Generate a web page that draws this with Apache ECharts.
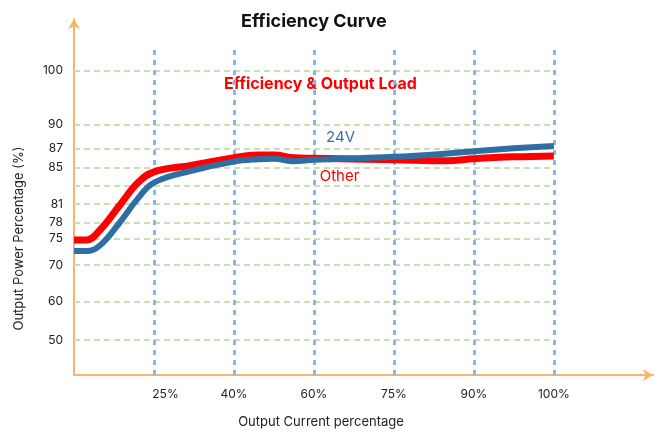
<!DOCTYPE html>
<html>
<head>
<meta charset="utf-8">
<title>Efficiency Curve</title>
<script src="https://cdn.jsdelivr.net/npm/echarts@6/dist/echarts.min.js"></script>
<style>
  html, body { margin: 0; padding: 0; background: #fff; }
  #main { width: 663px; height: 434px; }
</style>
</head>
<body>
<div id="main"></div>
<script>
// data
const loadPct  = [0, 4, 8, 14, 20, 25, 32, 40, 46, 50, 55, 60, 75, 85, 90, 95, 100];
const eff24V   = [72.6, 72.6, 73.6, 77.8, 81.6, 83.3, 84.6, 85.6, 85.85, 85.9, 85.65, 85.8, 86.1, 86.45, 86.7, 87.0, 87.3];
const effOther = [74.7, 74.7, 76.5, 80.6, 83.3, 84.5, 85.2, 86.0, 86.3, 86.3, 86.0, 85.95, 85.8, 85.7, 85.9, 86.1, 86.2];

const xTicks = [0, 25, 40, 60, 75, 90, 100];
const xTickLabels = ['', '25%', '40%', '60%', '75%', '90%', '100%'];
const yTicks = [50, 60, 70, 75, 78, 81, 83, 85, 87, 90, 100];
const yTickLabels = ['50', '60', '70', '75', '78', '81', '', '85', '87', '90', '100'];

// the original axes are not linear: each tick sits at its own place,
// values in between are interpolated between neighbouring ticks
const xTickPos = [0, 1, 2, 3, 4, 5, 6];
const yTickPos = [35, 73.3, 110, 136.7, 152.3, 171, 189.7, 207.7, 226.7, 250.3, 304.3];

function warp(v, ticks, pos) {
  for (let i = 0; i < ticks.length - 1; i++) {
    if (v <= ticks[i + 1] || i === ticks.length - 2) {
      const t = (v - ticks[i]) / (ticks[i + 1] - ticks[i]);
      return pos[i] + t * (pos[i + 1] - pos[i]);
    }
  }
}
const wx = v => warp(v, xTicks, xTickPos);
const wy = v => warp(v, yTicks, yTickPos);

function labelAt(v, pos, labels) {
  for (let i = 0; i < pos.length; i++) {
    if (Math.abs(pos[i] - v) < 1e-6) return labels[i];
  }
  return '';
}

const FONT = 'Inter';
const AXIS_COLOR = '#f8b46e';

var myChart = echarts.init(document.getElementById('main'), null, { renderer: 'canvas' });

let hLines = yTicks.map((v) => [{ coord: [0, wy(v)] }, { coord: [6, wy(v)] }]);
let vLines = xTickPos.slice(1).map((p) => [{ coord: [p, 0] }, { coord: [p, 328] }]);

let option = {
  animation: false,
  textStyle: { fontFamily: FONT },
  title: {
    text: 'Efficiency Curve',
    left: 236,
    top: 8,
    textStyle: { fontFamily: FONT, fontSize: 18, fontWeight: 'bold', color: '#111' }
  },
  grid: { left: 74, right: 10, top: 19, bottom: 59 },
  xAxis: {
    type: 'value',
    min: 0,
    max: 7.24,
    axisLine: {
      lineStyle: { color: AXIS_COLOR, width: 2 },
      symbol: ['none', 'arrow'],
      symbolSize: [9, 10]
    },
    axisTick: { show: false },
    splitLine: { show: false },
    axisLabel: {
      customValues: xTickPos.slice(1),
      margin: 13,
      fontFamily: FONT,
      fontSize: 12,
      color: '#222',
      formatter: function (v) {
        let s = labelAt(v, xTickPos, xTickLabels);
        return v === 1 ? '{a|' + s + '}' : s;
      },
      rich: { a: { fontFamily: FONT, fontSize: 12, color: '#222', padding: [0, 0, 0, 23] } }
    }
  },
  yAxis: {
    type: 'value',
    min: 0,
    max: 356,
    axisLine: {
      show: true,
      lineStyle: { color: AXIS_COLOR, width: 2 },
      symbol: ['none', 'arrow'],
      symbolSize: [9, 10]
    },
    axisTick: { show: false },
    splitLine: { show: false },
    axisLabel: {
      customValues: yTickPos.filter((p, i) => yTickLabels[i] !== ''),
      margin: 11,
      fontFamily: FONT,
      fontSize: 12,
      color: '#222',
      formatter: function (v) { return labelAt(v, yTickPos, yTickLabels); }
    }
  },
  graphic: [
    {
      type: 'text', x: 19.5, y: 238.5, rotation: Math.PI / 2,
      style: { text: 'Output Power Percentage (%)', font: '13px Inter', fill: '#222', align: 'center', verticalAlign: 'middle' }
    },
    {
      type: 'text', x: 321, y: 422,
      style: { text: 'Output Current percentage', font: '13px Inter', fill: '#222', align: 'center', verticalAlign: 'middle' }
    },
    {
      type: 'text', x: 320.5, y: 84,
      style: { text: 'Efficiency & Output Load', font: 'bold 16px Inter', fill: '#ff0000', align: 'center', verticalAlign: 'middle' }
    },
    {
      type: 'text', x: 340.5, y: 137.5,
      style: { text: '24V', font: '15px Inter', fill: '#3773a8', align: 'center', verticalAlign: 'middle' }
    },
    {
      type: 'text', x: 339.5, y: 176,
      style: { text: 'Other', font: '15px Inter', fill: '#ff0000', align: 'center', verticalAlign: 'middle' }
    }
  ],
  series: [
    {
      // grid lines of the original picture
      type: 'line',
      data: [],
      silent: true,
      z: 1,
      markLine: {
        silent: true,
        z: 1,
        symbol: 'none',
        label: { show: false },
        lineStyle: { color: '#c8e0b4', width: 2, type: [6, 4] },
        data: hLines
      }
    },
    {
      type: 'line',
      data: [],
      silent: true,
      z: 2,
      markLine: {
        silent: true,
        z: 2,
        symbol: 'none',
        label: { show: false },
        lineStyle: { color: '#86b8e8', width: 3, type: [5, 5] },
        data: vLines
      }
    },
    {
      name: 'Other',
      type: 'line',
      smooth: 0.4,
      showSymbol: false,
      lineStyle: { color: '#ff0000', width: 7 },
      data: loadPct.map((x, i) => [wx(x), wy(effOther[i])]),
      z: 10
    },
    {
      name: '24V',
      type: 'line',
      smooth: 0.4,
      showSymbol: false,
      lineStyle: { color: '#2f6ea3', width: 6 },
      data: loadPct.map((x, i) => [wx(x), wy(eff24V[i])]),
      z: 11
    }
  ]
};

myChart.setOption(option);
</script>
</body>
</html>
